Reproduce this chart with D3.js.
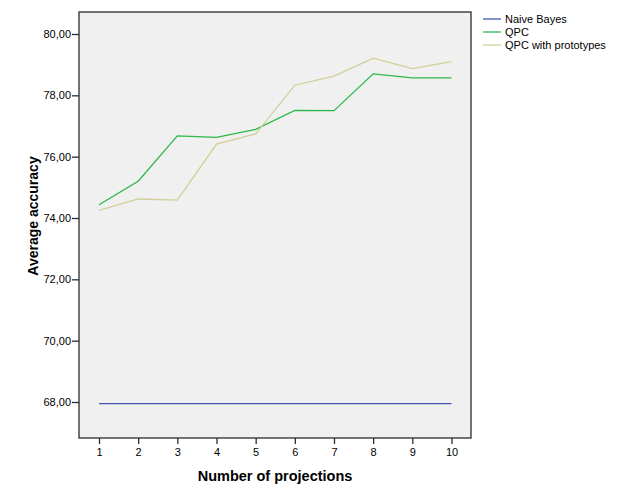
<!DOCTYPE html>
<html>
<head>
<meta charset="utf-8">
<script src="https://cdn.jsdelivr.net/npm/d3@7"></script>
<style>
  body { margin: 0; background: #fff; }
  svg { display: block; font-family: "Liberation Sans", Arial, sans-serif; }
</style>
</head>
<body>
<div id="chart"></div>
<script>
// data
const projections = [1, 2, 3, 4, 5, 6, 7, 8, 9, 10];
const naiveBayes = [67.95, 67.95, 67.95, 67.95, 67.95, 67.95, 67.95, 67.95, 67.95, 67.95];
const qpc = [74.43, 75.20, 76.68, 76.63, 76.89, 77.51, 77.50, 78.70, 78.57, 78.57];
const qpcProto = [74.25, 74.62, 74.58, 76.41, 76.74, 78.33, 78.63, 79.21, 78.87, 79.10];
const yTicks = [68, 70, 72, 74, 76, 78, 80];
const seriesNames = ['Naive Bayes', 'QPC', 'QPC with prototypes'];
const seriesColors = ['#3E58AC', '#2EB848', '#D3CE97'];

const W = 629, H = 504;
const plot = { left: 79, top: 12, right: 471, bottom: 438 };

const svg = d3.select('#chart').append('svg')
  .attr('width', W).attr('height', H);

const x = d3.scaleLinear().domain([1, 10]).range([99, 451.5]);
const y = d3.scaleLinear().domain([68, 80]).range([402, 34]);

// plot background
svg.append('rect')
  .attr('x', plot.left).attr('y', plot.top)
  .attr('width', plot.right - plot.left).attr('height', plot.bottom - plot.top)
  .attr('fill', '#f0f0f0')
  .attr('stroke', '#2b2b2b').attr('stroke-width', 1.3);

// axes
const yAxis = svg.append('g')
  .attr('transform', `translate(${plot.left},0)`)
  .call(d3.axisLeft(y).tickValues(yTicks).tickSize(7).tickPadding(1)
    .tickFormat(d => d3.format('.2f')(d).replace('.', ',')));
yAxis.select('.domain').remove();

const xAxis = svg.append('g')
  .attr('transform', `translate(0,${plot.bottom})`)
  .call(d3.axisBottom(x).tickValues(projections).tickSize(6).tickPadding(4)
    .tickFormat(d3.format('d')));
xAxis.select('.domain').remove();

svg.selectAll('.tick line').attr('stroke', '#2b2b2b').attr('stroke-width', 1.3);
svg.selectAll('.tick text')
  .attr('fill', '#000')
  .style('font-size', '11px')
  .style('font-family', '"Liberation Sans", Arial, sans-serif');

// series lines
const line = d3.line()
  .x((d, i) => x(projections[i]))
  .y(d => y(d));

[naiveBayes, qpc, qpcProto].forEach((vals, i) => {
  svg.append('path')
    .datum(vals)
    .attr('d', line)
    .attr('fill', 'none')
    .attr('stroke', seriesColors[i])
    .attr('stroke-width', 1.3);
});

// axis titles
svg.append('text')
  .attr('x', 275).attr('y', 481)
  .attr('text-anchor', 'middle')
  .style('font-size', '14.5px').style('font-weight', 'bold')
  .text('Number of projections');

svg.append('text')
  .attr('transform', 'translate(38,216) rotate(-90)')
  .attr('text-anchor', 'middle')
  .style('font-size', '14px').style('font-weight', 'bold')
  .text('Average accuracy');

// legend
const legend = svg.append('g').attr('transform', 'translate(483,19)');
seriesNames.forEach((name, i) => {
  const g = legend.append('g').attr('transform', `translate(0,${i * 13})`);
  g.append('line')
    .attr('x1', 0).attr('x2', 18)
    .attr('stroke', seriesColors[i]).attr('stroke-width', 1.3);
  g.append('text')
    .attr('x', 22).attr('y', 4)
    .style('font-size', '11px')
    .text(name);
});
</script>
</body>
</html>
